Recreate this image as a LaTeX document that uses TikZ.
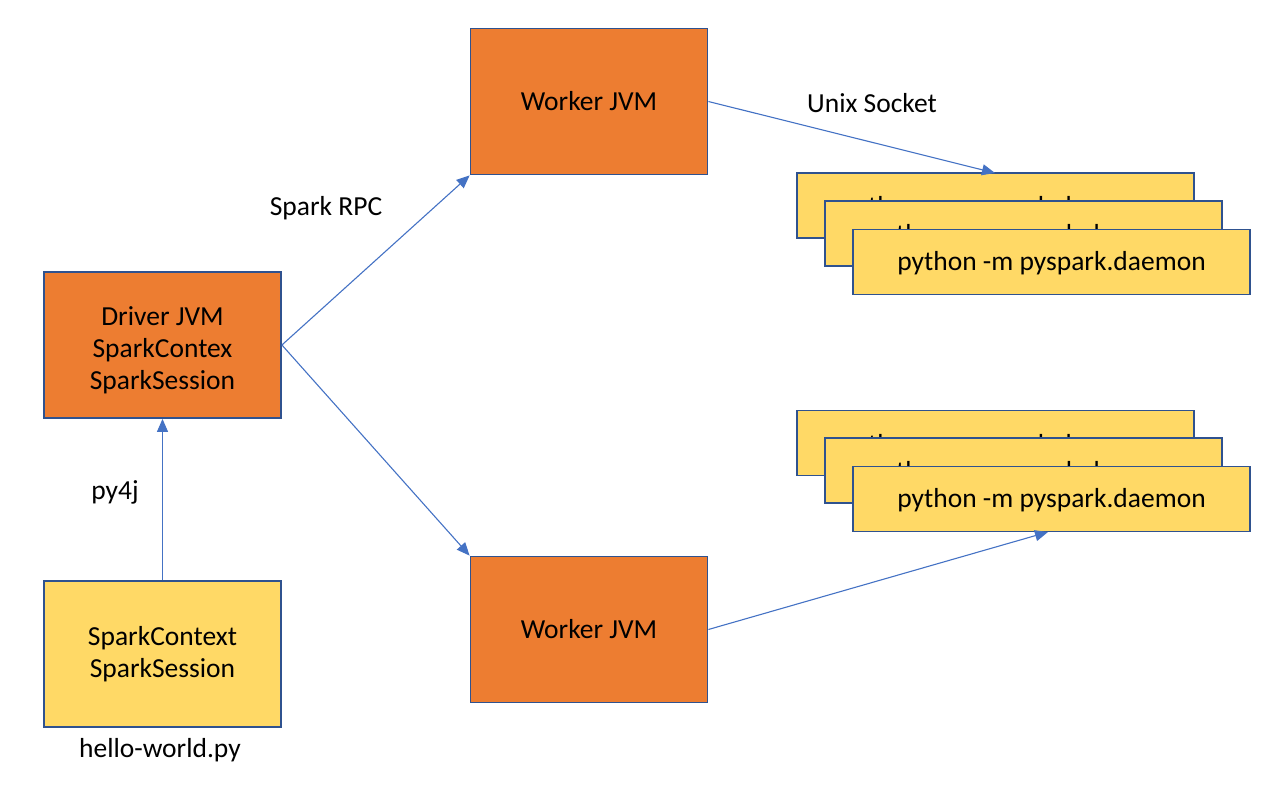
\documentclass[tikz,border=0pt]{standalone}
\usepackage{fontspec}
\setmainfont{Carlito}
\usetikzlibrary{arrows.meta}
\definecolor{orng}{HTML}{ED7D31}
\definecolor{ylw}{HTML}{FFD966}
\definecolor{bord}{HTML}{2F528F}
\definecolor{arr}{HTML}{4472C4}
\newcommand{\lowered}[2]{\raisebox{-#1}[\height][\depth]{#2}}
\begin{document}
\begin{tikzpicture}[x=1pt,y=-1pt,
  box/.style={draw=bord,line width=1.8pt,minimum width=237pt,minimum height=146pt,inner sep=0pt,align=center,font=\fontsize{27.5}{32}\selectfont},
  jvm/.style={box,fill=orng},
  pybox/.style={box,fill=ylw},
  daemon/.style={draw=bord,line width=1.8pt,fill=ylw,minimum width=397pt,minimum height=65pt,inner sep=0pt,font=\fontsize{27.5}{32}\selectfont},
  conn/.style={draw=arr,line width=1.1pt,-{Triangle[length=13pt,width=11pt]}},
  lbl/.style={font=\fontsize{27.5}{32}\selectfont}]
\useasboundingbox (0,0) rectangle (1280,786);
\node[jvm] (driver) at (162.5,345) {\lowered{6pt}{\begin{tabular}{@{}c@{}}Driver JVM\\SparkContex\\SparkSession\end{tabular}}};
\node[pybox] (hello) at (162.5,654) {SparkContext\\SparkSession};
\node[lbl] (hw) at (160,750) {hello-world.py};
\node[lbl] (py4j) at (115,492) {py4j};
\node[jvm] (w1) at (589,101.5) {Worker JVM};
\node[jvm] (w2) at (589,629.5) {Worker JVM};
\node[lbl] (rpc) at (326,208) {Spark RPC};
\node[lbl] (unix) at (872,103) {Unix Socket};
\node[daemon] (a1) at (995.5,205.5) {\lowered{3pt}{python -m pyspark.daemon}};
\node[daemon] (a2) at (1023.5,233.5) {\lowered{3pt}{python -m pyspark.daemon}};
\node[daemon] (a3) at (1051.5,262) {\lowered{1pt}{python -m pyspark.daemon}};
\node[daemon] (b1) at (995.5,443) {\lowered{3pt}{python -m pyspark.daemon}};
\node[daemon] (b2) at (1023.5,470.5) {\lowered{3pt}{python -m pyspark.daemon}};
\node[daemon] (b3) at (1051.5,499) {\lowered{1pt}{python -m pyspark.daemon}};
\coordinate (a1t) at (995,173);
\coordinate (b3b) at (1048,532);
\draw[conn] (hello.north) -- (driver.south);
\draw[conn] (driver.east) -- (w1.south west);
\draw[conn] (driver.east) -- (w2.north west);
\draw[conn] (w1.east) -- (a1t);
\draw[conn] (w2.east) -- (b3b);
\end{tikzpicture}
\end{document}
